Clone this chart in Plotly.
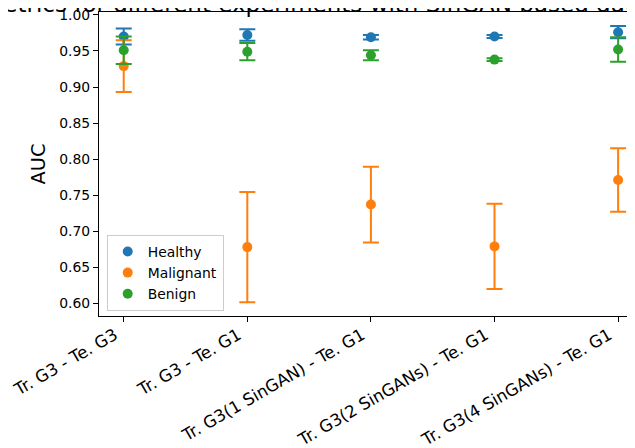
import plotly.graph_objects as go

categories = ["Tr. G3 - Te. G3", "Tr. G3 - Te. G1", "Tr. G3(1 SinGAN) - Te. G1",
              "Tr. G3(2 SinGANs) - Te. G1", "Tr. G3(4 SinGANs) - Te. G1"]
healthy_mean = [0.970, 0.972, 0.969, 0.970, 0.976]
healthy_err = [0.011, 0.008, 0.003, 0.002, 0.0085]
malignant_mean = [0.929, 0.678, 0.737, 0.679, 0.771]
malignant_err = [0.036, 0.0765, 0.0525, 0.059, 0.044]
benign_mean = [0.951, 0.949, 0.944, 0.938, 0.952]
benign_err = [0.019, 0.012, 0.007, 0.002, 0.017]
title_text = "AUC metrics for different experiments with SinGAN based data augmentation"
y_ticks = [0.60, 0.65, 0.70, 0.75, 0.80, 0.85, 0.90, 0.95, 1.00]

FONT = "DejaVu Sans"
OFF = 8  # page body margin offset
W, H = 635, 448
L, T = 99 - OFF, 12 - OFF
R = OFF
B = H - (316 - OFF)
plot_w = W - L - R
plot_h = H - T - B

fig = go.Figure()
series = [("Healthy", healthy_mean, healthy_err, "#1f77b4"),
          ("Malignant", malignant_mean, malignant_err, "#ff7f0e"),
          ("Benign", benign_mean, benign_err, "#2ca02c")]
for name, m, e, c in series:
    fig.add_trace(go.Scatter(
        x=categories, y=m, name=name, mode="markers",
        marker=dict(color=c, size=10),
        error_y=dict(type="data", array=e, visible=True, color=c, thickness=2, width=8),
    ))

unit_px = 123.6
x_right = -0.2 + plot_w / unit_px

fig.update_layout(
    width=W, height=H,
    margin=dict(l=L, r=R, t=T, b=B, pad=0, autoexpand=False),
    paper_bgcolor="white", plot_bgcolor="white",
    font=dict(family=FONT, color="black"),
    showlegend=True,
    legend=dict(
        x=7.7 / plot_w, y=5 / plot_h, xanchor="left", yanchor="bottom",
        bgcolor="rgba(255,255,255,0.8)", bordercolor="#cccccc", borderwidth=1,
        font=dict(family=FONT, size=13.9, color="black"),
    ),
    xaxis=dict(
        type="category", range=[-0.2, x_right], automargin=False,
        showline=True, linecolor="black", linewidth=1.1, mirror=True,
        ticks="outside", ticklen=5, tickwidth=1.1, tickcolor="black",
        tickangle=-30, tickfont=dict(family=FONT, size=16.7, color="black"),
        ticklabelshift=-9, ticklabelstandoff=-3, ticklabeloverflow="allow",
        showgrid=False, zeroline=False,
    ),
    yaxis=dict(
        range=[0.5825, 1.004], automargin=False,
        tickvals=y_ticks, tickformat=".2f", ticklabeloverflow="allow",
        showline=True, linecolor="black", linewidth=1.1,
        ticks="outside", ticklen=5, tickwidth=1.1, tickcolor="black",
        tickfont=dict(family=FONT, size=13.9, color="black"),
        showgrid=False, zeroline=False,
        title=dict(text="AUC", font=dict(family=FONT, size=19.4, color="black"), standoff=8),
    ),
)

fig.add_annotation(
    text=title_text, xref="paper", yref="paper",
    x=(371 - L - OFF) / plot_w, y=1.0, xanchor="center", yanchor="bottom", yshift=-7,
    showarrow=False, font=dict(family=FONT, size=23, color="black"),
)

fig.write_html("out.html")
